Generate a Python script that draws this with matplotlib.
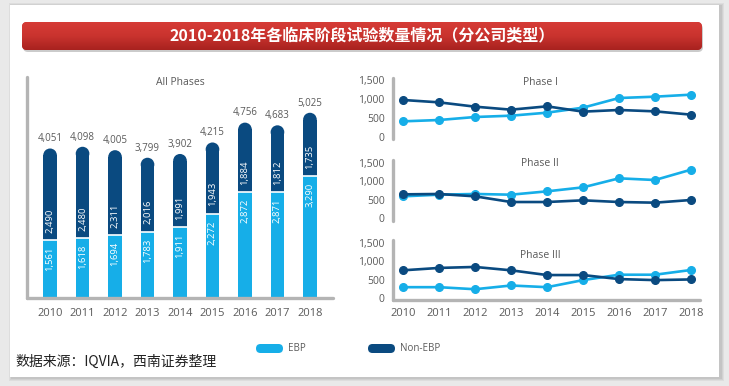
import matplotlib
matplotlib.use('Agg')
import matplotlib.pyplot as plt
from matplotlib.patches import FancyBboxPatch, Ellipse, Rectangle
from matplotlib.colors import LinearSegmentedColormap
import numpy as np

# ---------------- data ----------------
years = ['2010', '2011', '2012', '2013', '2014', '2015', '2016', '2017', '2018']
ebp_all = [1561, 1618, 1694, 1783, 1911, 2272, 2872, 2871, 3290]
non_ebp_all = [2490, 2480, 2311, 2016, 1991, 1943, 1884, 1812, 1735]
totals_all = [4051, 4098, 4005, 3799, 3902, 4215, 4756, 4683, 5025]

p1_ebp = [412, 447, 526, 561, 640, 772, 1026, 1061, 1114]
p1_non = [974, 912, 798, 719, 807, 667, 711, 675, 588]
p2_ebp = [591, 636, 655, 636, 727, 836, 1082, 1036, 1318]
p2_non = [645, 655, 591, 436, 436, 482, 436, 418, 491]
p3_ebp = [295, 295, 239, 341, 295, 488, 635, 635, 764]
p3_non = [755, 820, 847, 755, 626, 626, 516, 488, 506]

phase_titles = ['Phase I', 'Phase II', 'Phase III']
y_ticks = [0, 500, 1000, 1500]
title = '2010-2018年各临床阶段试验数量情况（分公司类型）'
source = '数据来源：IQVIA，西南证券整理'
legend_labels = ['EBP', 'Non-EBP']

# ---------------- style ----------------
C_EBP = '#16AEE8'
C_NON = '#0A4A80'
C_SPINE = '#B4B4B4'
C_TXT = '#5A5A5A'
NUM_FONT = ['Open Sans', 'DejaVu Sans']
CJK_FONT = ['Noto Sans CJK SC', 'DejaVu Sans']
plt.rcParams['font.family'] = NUM_FONT

W, H = 729, 386
fig = plt.figure(figsize=(W / 100, H / 100), dpi=100)
fig.patch.set_facecolor('#E9E9E9')
T = fig.dpi_scale_trans


def pr(x, y):
    """pixel (from top-left) -> inches for dpi_scale_trans"""
    return x / 100, (H - y) / 100


def px_axes(l, t, r, b):
    return fig.add_axes([l / W, 1 - b / H, (r - l) / W, (b - t) / H])


# card with soft shadow
for i, a in enumerate([0.05, 0.05, 0.06]):
    off = 3 - i
    fig.patches.append(Rectangle(pr(10 - off + 2, 377 + off + 1), (709 + 2 * off) / 100,
                                 (372 + 2 * off) / 100, transform=T,
                                 facecolor='black', alpha=a, edgecolor='none', zorder=-3))
fig.patches.append(Rectangle(pr(10, 377), 7.09, 3.72, transform=T,
                             facecolor='white', edgecolor='none', zorder=-2))

# title banner with gradient
bx0, by0, bx1, by1 = 22, 22, 702, 50
fig.patches.append(FancyBboxPatch(pr(bx0 + 1, by1 + 2), (bx1 - bx0) / 100, (by1 - by0) / 100,
                                  boxstyle='round,pad=0,rounding_size=0.05', transform=T,
                                  facecolor='#999999', edgecolor='none', alpha=0.5, zorder=-1.5))
banner = FancyBboxPatch(pr(bx0, by1), (bx1 - bx0) / 100, (by1 - by0) / 100,
                        boxstyle='round,pad=0,rounding_size=0.05', transform=T,
                        facecolor='#C2312C', edgecolor='none', zorder=-1)
fig.patches.append(banner)
bax = px_axes(bx0, by0, bx1, by1)
bax.set_axis_off()
grad = np.linspace(0, 1, 64).reshape(-1, 1)
cm = LinearSegmentedColormap.from_list('r', ['#D63B36', '#C9332E', '#A8221F'])
im = bax.imshow(grad, aspect='auto', cmap=cm, extent=[0, 1, 0, 1], origin='upper')
im.set_clip_path(banner)
fig.text(362 / W, 1 - 36 / H, title, color='white', fontsize=11.5, fontweight='bold',
         family=CJK_FONT, ha='center', va='center', zorder=5)

# ---------------- left: stacked bars ----------------
ax = px_axes(27, 77, 333, 298)
ax.set_facecolor('none')
x = np.arange(len(years))
ax.set_xlim(-0.71, len(years) - 1 + 0.71)
ax.set_ylim(-25, 6000)
for s in ['top', 'right']:
    ax.spines[s].set_visible(False)
for s in ['left', 'bottom']:
    ax.spines[s].set_color(C_SPINE)
    ax.spines[s].set_linewidth(2.4)
    ax.spines[s].set_capstyle('round')
ax.set_yticks([])
ax.tick_params(axis='x', length=0, pad=7, labelsize=8, labelcolor=C_TXT)
ax.set_xticks(x, years)

bw = 0.42
fig.canvas.draw()
p0 = ax.transData.transform((0, 0))
p1 = ax.transData.transform((1, 1))
px_x = p1[0] - p0[0]
px_y = p1[1] - p0[1]
r_y = (bw / 2) * px_x / px_y

ebp = np.array(ebp_all)
non = np.array(non_ebp_all)
tot = np.array(totals_all)
ax.bar(x, ebp, width=bw, color=C_EBP, edgecolor='none', zorder=2)
ax.bar(x, tot - r_y - ebp, bottom=ebp, width=bw, color=C_NON, edgecolor='none', zorder=2)
for xi, t in zip(x, tot):
    ax.add_patch(Ellipse((xi, t - r_y), bw, 2 * r_y, facecolor=C_NON, edgecolor='none', zorder=2))
ax.hlines(ebp, x - bw / 2, x + bw / 2, colors='white', linewidth=1.2, zorder=3)

for xi, e, n, t in zip(x, ebp, non, tot):
    ax.annotate(f'{e:,}', (xi, e), xytext=(0, -13.5), textcoords='offset points',
                rotation=90, ha='center', va='center', color='white', fontsize=6.8, zorder=4)
    ax.annotate(f'{n:,}', (xi, e), xytext=(0, 14), textcoords='offset points',
                rotation=90, ha='center', va='center', color='white', fontsize=6.8, zorder=4)
    ax.annotate(f'{t:,}', (xi, t), xytext=(0, 3), textcoords='offset points',
                ha='center', va='bottom', color=C_TXT, fontsize=7, zorder=4)
ax.text(0.5, 0.975, 'All Phases', transform=ax.transAxes, ha='center', va='center',
        color=C_TXT, fontsize=7.5)

# ---------------- right: line panels ----------------
panels = [
    (p1_ebp, p1_non, 78, 139, 137, 80, 0.92),
    (p2_ebp, p2_non, 160, 221, 218, 163, 0.95),
    (p3_ebp, p3_non, 240, 300, 298, 243, 0.74),
]
for i, (e, n, t, b, y0px, y1px, ty) in enumerate(panels):
    a = px_axes(393, t, 700, b)
    a.set_facecolor('none')
    per = 1500 / (y0px - y1px)
    a.set_ylim(-(b - y0px) * per, 1500 + (y1px - t) * per)
    a.set_xlim(-0.28, len(years) - 1 + 0.25)
    for s in ['top', 'right']:
        a.spines[s].set_visible(False)
    a.spines['left'].set_color(C_SPINE)
    a.spines['left'].set_linewidth(2.4)
    a.spines['left'].set_capstyle('round')
    if i < 2:
        a.spines['bottom'].set_visible(False)
        a.set_xticks([])
    else:
        a.spines['bottom'].set_color(C_SPINE)
        a.spines['bottom'].set_linewidth(2.4)
        a.spines['bottom'].set_capstyle('round')
        a.set_xticks(x, years)
        a.tick_params(axis='x', length=0, pad=6, labelsize=8, labelcolor=C_TXT)
    a.set_yticks(y_ticks, [f'{v:,}' for v in y_ticks])
    a.tick_params(axis='y', length=0, pad=6, labelsize=7.5, labelcolor=C_TXT)
    a.plot(x, e, color=C_EBP, lw=1.9, marker='o', ms=5.5, zorder=3, clip_on=False)
    a.plot(x, n, color=C_NON, lw=1.9, marker='o', ms=5.5, zorder=4, clip_on=False)
    a.text(0.48, ty, phase_titles[i], transform=a.transAxes, ha='center', va='center',
           color=C_TXT, fontsize=7.5)

# ---------------- legend ----------------
for (lx, col, lab) in [(256, C_EBP, legend_labels[0]), (368, C_NON, legend_labels[1])]:
    fig.patches.append(FancyBboxPatch(pr(lx, 353), 0.27, 0.09,
                                      boxstyle='round,pad=0,rounding_size=0.045', transform=T,
                                      facecolor=col, edgecolor='none', zorder=3))
    fig.text((lx + 32) / W, 1 - 348.5 / H, lab, color=C_TXT, fontsize=7, ha='left', va='center')

fig.text(15 / W, 1 - 362 / H, source, family=CJK_FONT, style='italic', fontsize=10,
         color='#222222', ha='left', va='center')

fig.savefig('out.png', dpi=100, facecolor=fig.get_facecolor())
